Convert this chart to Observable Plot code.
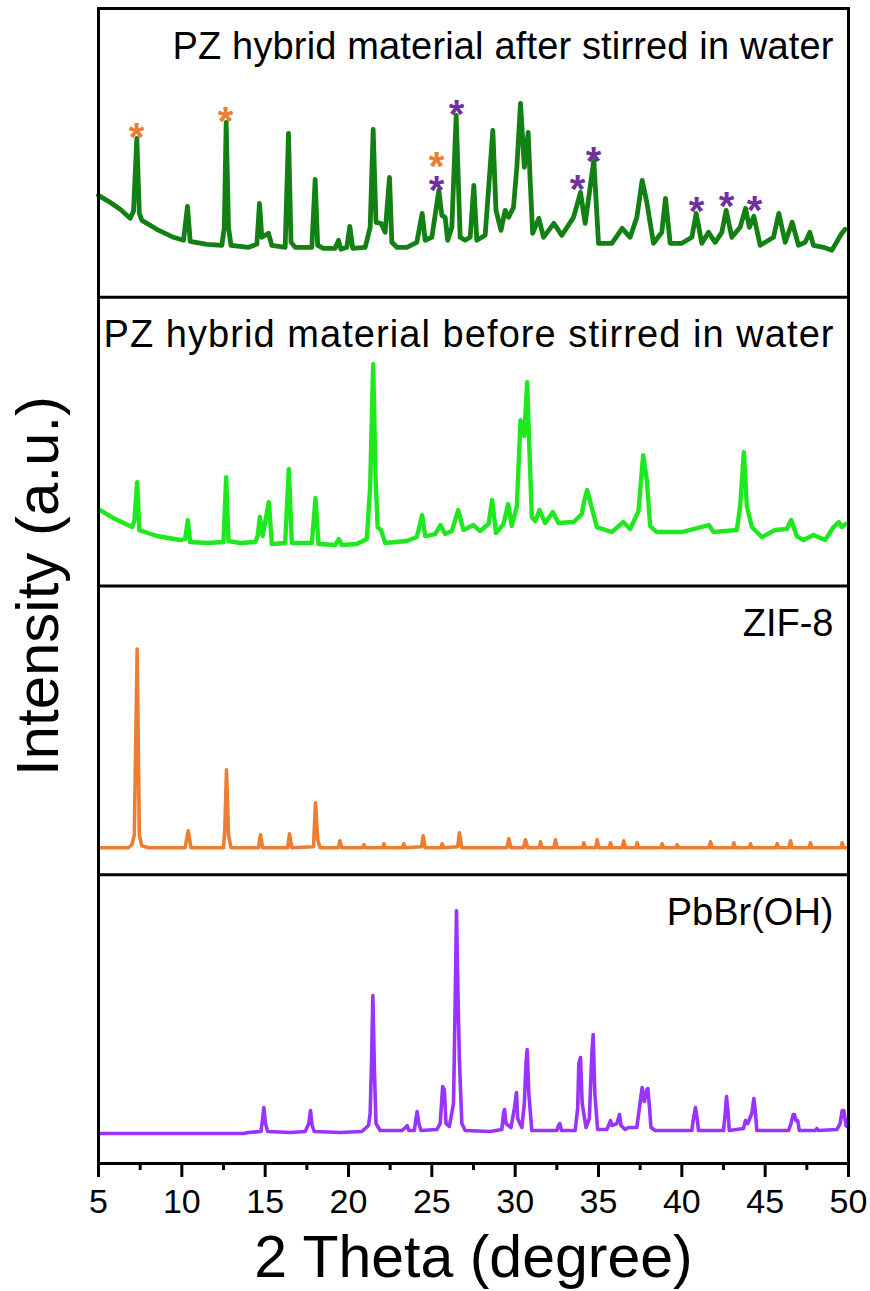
<!DOCTYPE html>
<html>
<head>
<meta charset="utf-8">
<script src="https://cdn.jsdelivr.net/npm/d3@7"></script>
<script src="https://cdn.jsdelivr.net/npm/@observablehq/plot@0.6"></script>
<style>
  html, body { margin: 0; padding: 0; background: #fff; }
  #chart svg { display: block; }
</style>
</head>
<body>
<div id="chart"></div>
<script>
// ---- data (2θ in degrees, intensity in arbitrary units within each panel) ----
const afterData = [[5.0,102],[5.6,96],[6.3,88],[6.9,79],[7.1,86],[7.3,159],[7.45,84],[7.6,77],[8.5,68],[9.5,60],[10.1,57],[10.34,91],[10.5,56],[11.5,53],[12.4,52],[12.55,70],[12.66,175],[12.8,70],[12.95,52],[14.0,50],[14.5,53],[14.66,94],[14.8,60],[15.2,64],[15.4,52],[16.2,50],[16.4,164],[16.55,55],[16.8,50],[17.8,50],[18.0,118],[18.15,52],[18.5,49],[19.2,49],[19.4,57],[19.55,48],[19.9,50],[20.08,71],[20.25,49],[21.0,50],[21.3,70],[21.48,168],[21.65,75],[21.95,74],[22.2,65],[22.46,120],[22.6,55],[22.9,50],[23.5,50],[24.1,55],[24.42,84],[24.6,57],[25.0,60],[25.42,107],[25.6,82],[25.8,80],[25.95,57],[26.2,70],[26.46,182],[26.7,60],[27.0,57],[27.3,60],[27.52,112],[27.7,57],[28.2,62],[28.66,167],[28.85,87],[29.15,67],[29.4,87],[29.6,80],[29.9,90],[30.1,130],[30.32,194],[30.55,130],[30.78,165],[30.9,117],[31.05,64],[31.42,79],[31.7,60],[32.32,74],[32.8,62],[33.5,80],[33.92,105],[34.2,74],[34.72,137],[35.0,54],[35.8,54],[36.42,69],[36.9,60],[37.3,80],[37.62,117],[37.9,95],[38.3,54],[38.8,65],[39.02,99],[39.3,54],[40.0,54],[40.6,60],[40.86,84],[41.2,54],[41.6,65],[42.0,55],[42.4,65],[42.66,87],[43.0,60],[43.5,70],[43.82,89],[44.05,70],[44.32,81],[44.7,52],[45.5,60],[45.82,84],[46.2,55],[46.62,75],[47.0,52],[47.4,55],[47.68,65],[47.9,52],[48.5,50],[49.0,47],[49.6,64],[49.8,68]];

const beforeData = [[5.1,76],[6.0,67],[7.02,59],[7.15,65],[7.32,104],[7.45,56],[8.5,50],[9.9,46],[10.2,47],[10.36,66],[10.5,44],[11.5,43],[12.5,44],[12.66,109],[12.8,45],[13.5,43],[14.4,44],[14.55,50],[14.68,69],[14.85,50],[15.22,84],[15.4,42],[16.2,43],[16.42,117],[16.6,43],[17.8,43],[18.02,88],[18.2,42],[19.2,41],[19.42,47],[19.6,41],[20.5,42],[21.1,47],[21.3,100],[21.48,222],[21.62,110],[21.75,59],[21.95,56],[22.2,43],[23.5,45],[24.1,49],[24.42,71],[24.6,50],[25.2,52],[25.52,61],[25.8,52],[26.2,55],[26.58,76],[26.9,56],[27.5,61],[27.9,55],[28.4,62],[28.62,86],[28.85,53],[29.3,62],[29.58,82],[29.8,60],[30.1,80],[30.32,166],[30.55,150],[30.72,204],[30.85,139],[31.0,69],[31.2,65],[31.46,76],[31.8,63],[32.26,74],[32.6,63],[33.5,64],[34.0,72],[34.15,86],[34.32,96],[34.6,78],[34.9,59],[35.8,54],[36.48,64],[36.9,57],[37.4,75],[37.68,131],[37.9,106],[38.1,60],[38.5,54],[40.0,54],[41.62,61],[41.9,54],[43.3,56],[43.5,80],[43.72,134],[43.9,80],[44.2,59],[44.8,49],[45.6,56],[46.3,57],[46.56,66],[46.9,50],[47.3,46],[47.9,51],[48.6,46],[49.1,59],[49.42,64],[49.6,59],[49.8,62]];

const zifData = [[5.0,27],[6.8,27],[7.0,30],[7.15,40],[7.32,226],[7.45,40],[7.6,29],[8.0,27],[10.2,27],[10.38,44],[10.55,27],[12.5,27],[12.58,45],[12.68,105],[12.8,40],[12.95,27],[14.6,27],[14.72,40],[14.85,27],[16.35,27],[16.46,41],[16.6,27],[17.9,28],[18.02,72],[18.15,35],[18.3,27],[19.4,27],[19.48,34],[19.6,27],[20.85,27],[20.92,30],[21.0,27],[22.05,27],[22.12,31],[22.2,27],[23.25,27],[23.32,31],[23.4,27],[24.38,28],[24.48,39],[24.6,27],[25.55,27],[25.62,31],[25.7,27],[26.55,28],[26.66,42],[26.8,27],[29.5,27],[29.62,36],[29.75,27],[30.5,27],[30.62,35],[30.75,27],[31.45,27],[31.52,33],[31.6,27],[32.32,27],[32.42,35],[32.52,27],[34.05,27],[34.12,32],[34.2,27],[34.82,27],[34.92,35],[35.02,27],[35.65,27],[35.72,32],[35.8,27],[36.42,27],[36.52,34],[36.62,27],[37.25,27],[37.32,32],[37.4,27],[38.75,27],[38.82,31],[38.9,27],[39.65,27],[39.72,30],[39.8,27],[41.62,27],[41.72,33],[41.82,27],[43.05,27],[43.12,32],[43.2,27],[44.05,27],[44.12,31],[44.2,27],[45.65,27],[45.72,31],[45.8,27],[46.42,27],[46.52,34],[46.62,27],[47.65,27],[47.72,32],[47.8,27],[49.55,27],[49.62,32],[49.7,27],[50.0,27]];

const pbData = [[5.0,30],[13.7,30],[14.0,31],[14.75,32],[14.85,45],[14.92,56],[15.02,40],[15.15,32],[16.5,31],[17.4,32],[17.62,40],[17.72,53],[17.82,38],[17.95,32],[19.5,31],[20.8,32],[21.2,38],[21.3,50],[21.38,100],[21.46,168],[21.56,90],[21.65,40],[21.9,33],[23.2,33],[23.42,36],[23.52,38],[23.62,33],[23.95,33],[24.05,45],[24.12,52],[24.22,40],[24.35,33],[25.3,34],[25.5,40],[25.65,77],[25.75,74],[25.85,40],[26.05,37],[26.3,60],[26.4,160],[26.48,253],[26.58,160],[26.65,106],[26.8,40],[27.0,33],[28.5,32],[29.2,34],[29.3,50],[29.36,54],[29.45,40],[29.75,36],[29.95,55],[30.08,71],[30.15,45],[30.4,36],[30.55,60],[30.65,100],[30.72,114],[30.82,70],[31.0,33],[32.5,33],[32.6,38],[32.68,40],[32.78,33],[33.6,33],[33.75,55],[33.82,100],[33.92,106],[34.02,60],[34.25,36],[34.45,45],[34.6,110],[34.68,129],[34.78,70],[34.95,34],[35.5,34],[35.65,40],[35.72,43],[35.8,38],[36.1,40],[36.26,49],[36.35,38],[36.6,34],[36.8,36],[37.3,36],[37.45,55],[37.62,76],[37.75,62],[37.9,74],[37.96,75],[38.05,58],[38.15,36],[38.4,33],[40.6,33],[40.7,45],[40.82,56],[40.92,45],[41.0,33],[42.5,33],[42.6,50],[42.68,67],[42.78,50],[42.85,33],[43.7,35],[43.82,43],[43.95,40],[44.2,50],[44.32,65],[44.42,50],[44.5,33],[46.4,33],[46.55,40],[46.68,49],[46.76,49],[46.85,43],[46.95,43],[47.05,33],[48.0,33],[48.1,35],[48.2,33],[49.3,34],[49.5,40],[49.62,53],[49.72,53],[49.85,38],[50.0,36]];

// panels from bottom to top
const panelNames = ["PbBr(OH)", "ZIF-8", "PZ hybrid material before stirred in water", "PZ hybrid material after stirred in water"];
const panelColors = ["#9933ff", "#ed7d31", "#1ee81e", "#128012"];
const panelLabelLevel = 251;

// asterisk markers in the top panel: [2θ, level]
const orangeStars = [[7.28,169],[12.62,185],[25.28,140]];
const purpleStars = [[26.48,192],[25.28,116],[33.74,117],[34.7,145],[40.88,95],[42.68,100],[44.36,96]];

const xMajorTicks = [5,10,15,20,25,30,35,40,45,50];
const xMinorTicks = [7.5,12.5,17.5,22.5,27.5,32.5,37.5,42.5,47.5];
const xLabel = "2 Theta (degree)";
const yLabel = "Intensity (a.u.)";

// ---- build ----
const panelSize = 289;
const series = [pbData, zifData, beforeData, afterData];
const strokeWidths = [3.6, 3.6, 4.4, 4.8];
const font = "'Liberation Sans', Arial, Helvetica, sans-serif";

const lineMarks = series.map((s, k) =>
  Plot.line(s, {x: d => d[0], y: d => d[1] + k * panelSize, stroke: panelColors[k],
    strokeWidth: strokeWidths[k], strokeLinejoin: "round", strokeLinecap: "round"}));

const labelRows = panelNames.map((name, k) => ({name, y: panelLabelLevel + k * panelSize}));
const topOffset = 3 * panelSize;

const chart = Plot.plot({
  width: 870,
  height: 1291,
  marginLeft: 98,
  marginRight: 22,
  marginTop: 8,
  marginBottom: 128,
  style: {fontFamily: font, background: "#fff", color: "#000"},
  x: {domain: [5, 50]},
  y: {domain: [0, 4 * panelSize], axis: null},
  marks: [
    ...lineMarks,
    Plot.ruleY([1, 2, 3].map(k => k * panelSize), {stroke: "#000", strokeWidth: 3}),
    Plot.frame({stroke: "#000", strokeWidth: 3}),
    Plot.text(labelRows, {x: 50, y: "y", text: "name", textAnchor: "end", dx: -15,
      lineAnchor: "middle", fontSize: 38, fill: "#000"}),
    Plot.text(orangeStars, {x: d => d[0], y: d => d[1] + topOffset, text: () => "*",
      fontSize: 40, fontWeight: "bold", fill: "#ed7d31", lineAnchor: "middle", dy: 10}),
    Plot.text(purpleStars, {x: d => d[0], y: d => d[1] + topOffset, text: () => "*",
      fontSize: 40, fontWeight: "bold", fill: "#7030a0", lineAnchor: "middle", dy: 10}),
    Plot.axisX({ticks: xMajorTicks, tickSize: 14, tickPadding: 11, fontSize: 34,
      strokeWidth: 3, label: null, anchor: "bottom", fill: "#000", stroke: "#000"}),
    Plot.axisX({ticks: xMinorTicks, tickSize: 7, tickFormat: () => "", strokeWidth: 3,
      label: null, anchor: "bottom", stroke: "#000"}),
    Plot.text([xLabel], {frameAnchor: "bottom", dy: 95, fontSize: 59, fill: "#000", lineAnchor: "middle"}),
    Plot.text([yLabel], {frameAnchor: "left", textAnchor: "middle", dx: -60, rotate: -90, fontSize: 60,
      fill: "#000", lineAnchor: "middle"})
  ]
});

// widen the "before" label to the span it covers in the reference
d3.select(chart).selectAll("text")
  .filter(function () { return this.textContent === panelNames[2]; })
  .attr("textLength", 730).attr("lengthAdjust", "spacing");
d3.select(chart).selectAll("text")
  .filter(function () { return this.textContent === panelNames[3]; })
  .attr("textLength", 661).attr("lengthAdjust", "spacing");

document.getElementById("chart").appendChild(chart);
</script>
</body>
</html>
